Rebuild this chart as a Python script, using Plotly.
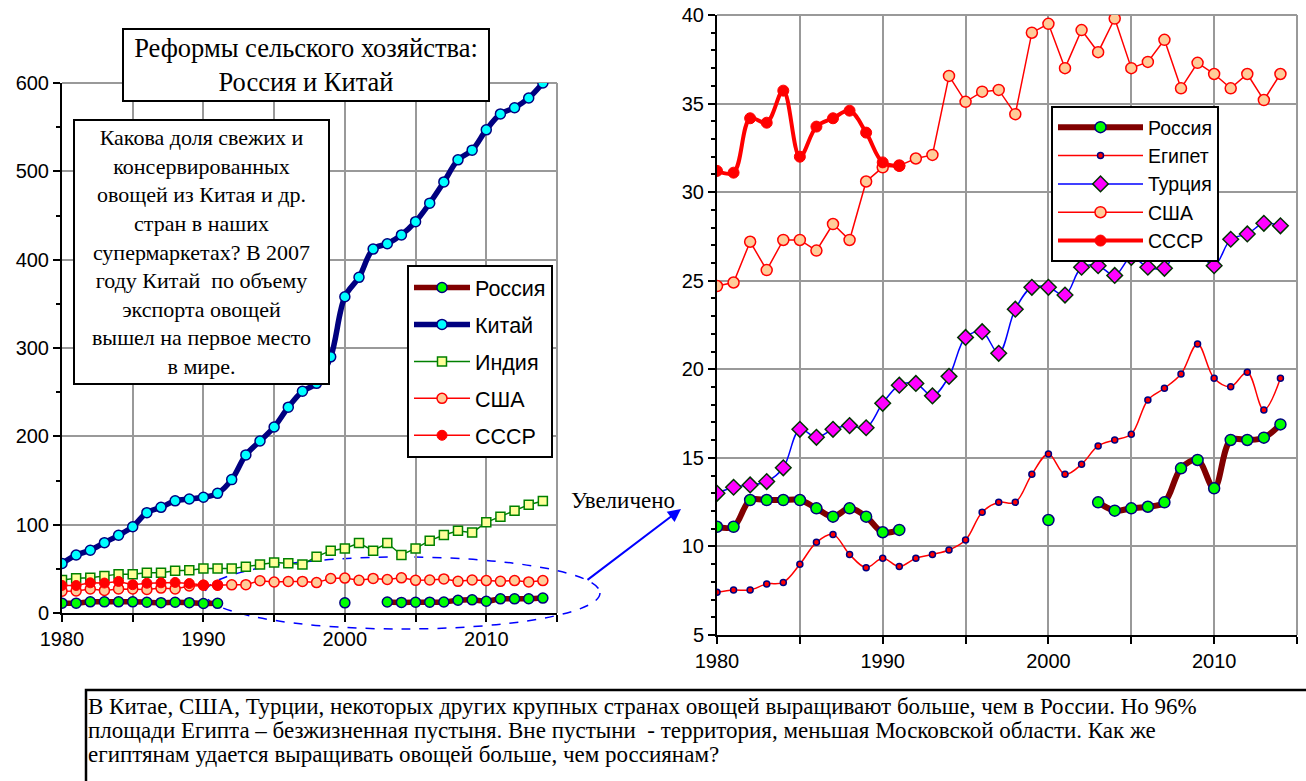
import plotly.graph_objects as go

# ---------------- data ----------------
years = list(range(1980, 2015))

china = [56, 65.7, 71, 79.6, 88, 97.7, 113.6, 119.6, 127, 129,
         131, 135.5, 151, 179, 194.7, 210.6, 233, 251, 260, 290,
         358, 380, 412, 418, 428, 443, 464, 488, 513, 524,
         547, 565, 572, 583, 600]

india = [37.4, 39.2, 40, 42, 44, 44, 45.6, 45.6, 47.9, 48.4,
         50.5, 50.5, 50.5, 52.5, 54.9, 57.2, 56.3, 55, 63.8, 70.6,
         73.1, 79.2, 70.6, 79.2, 65.7, 73.1, 81.9, 88.3, 93.2, 91,
         102.6, 109, 115.8, 122.6, 126.8]

usa = [24.7, 24.9, 27.2, 25.6, 27.3, 27.3, 26.7, 28.2, 27.3, 30.6,
       31.4, 31.5, 31.9, 32.1, 36.56, 35.1, 35.67, 35.77, 34.4, 39.0,
       39.5, 37.0, 39.15, 37.9, 39.8, 37.0, 37.35, 38.6, 35.86, 37.3,
       36.67, 35.86, 36.67, 35.2, 36.67]

ussr = [31.2, 31.1, 34.17, 33.92, 35.73, 32.0, 33.7, 34.17, 34.6, 33.36,
        31.68, 31.48] + [None] * 23

russia = [11.11, 11.11, 12.62, 12.62, 12.62, 12.62, 12.15, 11.68, 12.15, 11.68,
          10.8, 10.93, None, None, None, None, None, None, None, None,
          11.49, None, None, 12.49, 12.02, 12.15, 12.24, 12.49, 14.41, 14.88,
          13.28, 16.01, 16.01, 16.14, 16.89]

egypt = [7.41, 7.54, 7.54, 7.88, 7.97, 8.99, 10.23, 10.68, 9.55, 8.8,
         9.33, 8.86, 9.33, 9.55, 9.8, 10.36, 11.93, 12.49, 12.49, 14.07,
         15.22, 14.07, 14.64, 15.67, 16.01, 16.33, 18.27, 18.93, 19.73, 21.43,
         19.49, 19.02, 19.83, 17.70, 19.49]

turkey = [13.0, 13.34, 13.47, 13.66, 14.44, 16.61, 16.16, 16.61, 16.82, 16.70,
          18.08, 19.1, 19.2, 18.5, 19.6, 21.8, 22.12, 20.9, 23.39, 24.63,
          24.63, 24.19, 25.76, 25.85, 25.3, 26.32, 25.76, 25.7, 27.1, 26.64,
          25.85, 27.34, 27.64, 28.24, 28.1]

x_tickvals = list(range(1980, 2016, 5))
x_ticktext = ['1980', '', '1990', '', '2000', '', '2010', '']

# ---------------- layout helpers ----------------
W, H = 1306, 781


def px(x):
    return x / W


def py(y):
    return 1 - y / H


SANS = 'Liberation Sans, Arial, sans-serif'
SERIF = 'Liberation Serif, Times New Roman, serif'
GRID = '#999999'

fig = go.Figure()

# ---------------- left chart ----------------
fig.add_trace(go.Scatter(
    x=years, y=russia, name='Россия', mode='lines+markers', connectgaps=False,
    line=dict(color='#800000', width=5.5, shape='spline', smoothing=1),
    marker=dict(symbol='circle', size=10, color='#00FF00', line=dict(color='#000080', width=1.5)),
    xaxis='x', yaxis='y', legend='legend', legendgroup='l1'))
fig.add_trace(go.Scatter(
    x=years, y=china, name='Китай', mode='lines+markers',
    line=dict(color='#000080', width=5.5, shape='spline', smoothing=1),
    marker=dict(symbol='circle', size=10, color='#00FFFF', line=dict(color='#000080', width=1.5)),
    xaxis='x', yaxis='y', legend='legend', legendgroup='l2'))
fig.add_trace(go.Scatter(
    x=years, y=india, name='Индия', mode='lines+markers',
    line=dict(color='#008000', width=1.5),
    marker=dict(symbol='square', size=9, color='#FFFF99', line=dict(color='#008000', width=1.5)),
    xaxis='x', yaxis='y', legend='legend', legendgroup='l3'))
fig.add_trace(go.Scatter(
    x=years, y=usa, name='США', mode='lines+markers',
    line=dict(color='#FF0000', width=1.5),
    marker=dict(symbol='circle', size=10, color='#FFCC99', line=dict(color='#FF0000', width=1.5)),
    xaxis='x', yaxis='y', legend='legend', legendgroup='l4'))
fig.add_trace(go.Scatter(
    x=years, y=ussr, name='СССР', mode='lines+markers',
    line=dict(color='#FF0000', width=1.5),
    marker=dict(symbol='circle', size=10, color='#FF0000', line=dict(color='#FF0000', width=1)),
    xaxis='x', yaxis='y', legend='legend', legendgroup='l5'))

# ---------------- right chart ----------------
fig.add_trace(go.Scatter(
    x=years, y=russia, name='Россия', mode='lines+markers', connectgaps=False,
    line=dict(color='#800000', width=6, shape='spline', smoothing=1),
    marker=dict(symbol='circle', size=11, color='#00FF00', line=dict(color='#000080', width=1.5)),
    xaxis='x2', yaxis='y2', legend='legend2'))
fig.add_trace(go.Scatter(
    x=years, y=egypt, name='Египет', mode='lines+markers',
    line=dict(color='#FF0000', width=1.5, shape='spline', smoothing=1),
    marker=dict(symbol='circle', size=6, color='#FF0000', line=dict(color='#000080', width=1.5)),
    xaxis='x2', yaxis='y2', legend='legend2'))
fig.add_trace(go.Scatter(
    x=years, y=turkey, name='Турция', mode='lines+markers',
    line=dict(color='#0000FF', width=1.5, shape='spline', smoothing=1),
    marker=dict(symbol='diamond', size=12, color='#FF00FF', line=dict(color='#003300', width=1.5)),
    xaxis='x2', yaxis='y2', legend='legend2'))
fig.add_trace(go.Scatter(
    x=years, y=usa, name='США', mode='lines+markers',
    line=dict(color='#FF0000', width=1.5),
    marker=dict(symbol='circle', size=11, color='#FFCC99', line=dict(color='#FF0000', width=1.5)),
    xaxis='x2', yaxis='y2', legend='legend2'))
fig.add_trace(go.Scatter(
    x=years, y=ussr, name='СССР', mode='lines+markers',
    line=dict(color='#FF0000', width=4, shape='spline', smoothing=1),
    marker=dict(symbol='circle', size=11, color='#FF0000', line=dict(color='#FF0000', width=1)),
    xaxis='x2', yaxis='y2', legend='legend2'))

axis_common = dict(
    showgrid=True, gridcolor=GRID, gridwidth=1.5,
    showline=True, linecolor='black', linewidth=2,
    ticks='outside', ticklen=7, tickwidth=1.5, tickcolor='black',
    tickfont=dict(family=SANS, size=20, color='black'),
    zeroline=False, fixedrange=True, automargin=False,
    ticklabeloverflow='allow',
)

fig.update_layout(
    template='none',
    width=W, height=H, autosize=False,
    margin=dict(l=0, r=0, t=0, b=0, pad=0),
    paper_bgcolor='white', plot_bgcolor='white',
    xaxis=dict(domain=[px(62), px(557)], range=[1980, 2015], anchor='y',
               tickvals=x_tickvals, ticktext=x_ticktext, **axis_common),
    yaxis=dict(domain=[py(613), py(83)], range=[0, 600], anchor='x', dtick=100,
               minor=dict(dtick=50, ticks='outside', ticklen=4, tickcolor='black', showgrid=False),
               **axis_common),
    xaxis2=dict(domain=[px(717), px(1297)], range=[1980, 2015], anchor='y2',
                tickvals=x_tickvals, ticktext=x_ticktext, **axis_common),
    yaxis2=dict(domain=[py(635), py(15)], range=[5, 40], anchor='x2',
                tickvals=[5, 10, 15, 20, 25, 30, 35, 40],
                minor=dict(dtick=1, ticks='outside', ticklen=4, tickcolor='black', showgrid=False),
                **axis_common),
    legend=dict(x=px(407), y=py(265), xanchor='left', yanchor='top',
                bgcolor='white', bordercolor='black', borderwidth=2,
                font=dict(family=SANS, size=21.5, color='black'),
                tracegroupgap=6, itemwidth=56),
    legend2=dict(x=px(1051), y=py(106), xanchor='left', yanchor='top',
                 bgcolor='white', bordercolor='black', borderwidth=2,
                 font=dict(family=SANS, size=19.5, color='black'),
                 tracegroupgap=0, itemwidth=85),
    showlegend=True,
)

# gray top/right frame of both plots
for xr, yr in (('x', 'y'), ('x2', 'y2')):
    fig.add_shape(type='line', xref=f'{xr} domain', yref=f'{yr} domain',
                  x0=0, x1=1, y0=1, y1=1, line=dict(color=GRID, width=2), layer='below')
    fig.add_shape(type='line', xref=f'{xr} domain', yref=f'{yr} domain',
                  x0=1, x1=1, y0=0, y1=1, line=dict(color=GRID, width=2), layer='below')

# dashed ellipse marking the zoomed region
fig.add_shape(type='circle', xref='paper', yref='paper',
              x0=px(205), x1=px(600), y0=py(629), y1=py(557),
              line=dict(color='#0000FF', width=1.5, dash='dash'), layer='below')

# bottom text frame (runs off the right and bottom edges, as in the original)
fig.add_shape(type='rect', xref='paper', yref='paper',
              x0=px(86), x1=px(1450), y0=py(850), y1=py(690),
              line=dict(color='black', width=2.5), fillcolor='rgba(0,0,0,0)')

# ---------------- annotations ----------------
fig.add_annotation(
    x=px(306), y=py(65), xref='paper', yref='paper', xanchor='center', yanchor='middle',
    text='Реформы сельского хозяйства:<br>Россия и Китай', showarrow=False,
    font=dict(family=SERIF, size=26.5, color='black'), align='center',
    width=362, height=68, bordercolor='black', borderwidth=2, borderpad=1, bgcolor='white')

fig.add_annotation(
    x=px(201.5), y=py(252), xref='paper', yref='paper', xanchor='center', yanchor='middle',
    text=('Какова доля свежих и<br>консервированных<br>овощей из Китая и др.<br>'
          'стран в наших<br>супермаркетах? В 2007<br>году Китай  по объему<br>'
          'экспорта овощей<br>вышел на первое место<br>в мире.'),
    showarrow=False, font=dict(family=SERIF, size=22, color='black'), align='center',
    width=251, height=260, bordercolor='black', borderwidth=2, borderpad=1, bgcolor='white')

fig.add_annotation(
    x=px(569), y=py(500), xref='paper', yref='paper', xanchor='left', yanchor='middle',
    text='Увеличено', showarrow=False, font=dict(family=SERIF, size=23, color='black'))

fig.add_annotation(
    x=px(681), y=py(509), xref='paper', yref='paper', text='',
    showarrow=True, ax=-95, ay=72, arrowcolor='#0000FF', arrowwidth=2,
    arrowhead=2, arrowsize=1.3)

bottom_lines = [
    'В Китае, США, Турции, некоторых других крупных странах овощей выращивают больше, чем в России. Но 96%',
    'площади Египта – безжизненная пустыня. Вне пустыни  - территория, меньшая Московской области. Как же',
    'египтянам удается выращивать овощей больше, чем россиянам?',
]
for i, line in enumerate(bottom_lines):
    fig.add_annotation(
        x=px(86), y=py(706 + 24 * i), xref='paper', yref='paper', xanchor='left', yanchor='middle',
        text=line, showarrow=False, font=dict(family=SERIF, size=23, color='black'), align='left')

# remove the default 8px page margin so the figure fills the window exactly
fig.write_html('out.html',
               config={'displayModeBar': False},
               post_script="document.body.style.margin='0';document.body.style.overflow='hidden';")
